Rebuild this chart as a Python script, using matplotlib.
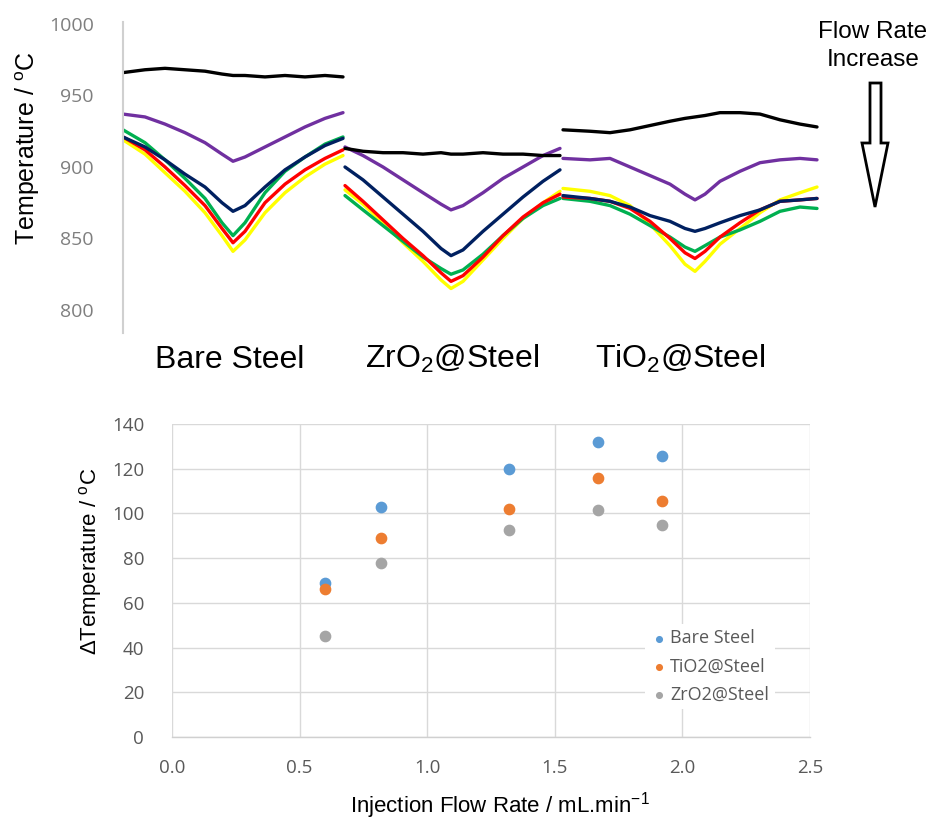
import matplotlib
matplotlib.use("Agg")
import matplotlib.pyplot as plt
from matplotlib.patches import Polygon
import numpy as np

# ---------------- data: top panel (temperature traces) ----------------
# sample positions along the recording for each sample segment
seg1_x = [0, 22, 42, 62, 82, 99, 110, 122, 142, 162, 182, 202, 220]
seg2_x = [222, 240, 260, 280, 300, 318, 328, 340, 360, 380, 400, 420, 437]
seg3_x = [440, 467, 487, 507, 527, 547, 562, 572, 582, 597, 617, 637, 657, 677, 694]

# Bare Steel
bare_black  = [966, 968, 969, 968, 967, 965, 964, 964, 963, 964, 963, 964, 963]
bare_purple = [937, 935, 930, 924, 917, 909, 904, 907, 914, 921, 928, 934, 938]
bare_navy   = [921, 914, 905, 895, 886, 875, 869, 873, 886, 898, 907, 915, 920]
bare_green  = [926, 917, 905, 892, 878, 861, 852, 861, 882, 897, 907, 916, 921]
bare_red    = [921, 912, 900, 887, 873, 857, 847, 855, 875, 888, 898, 906, 912]
bare_yellow = [919, 909, 896, 883, 868, 852, 841, 849, 868, 882, 893, 902, 908]

# ZrO2@Steel
zr_black  = [913, 911, 910, 910, 909, 910, 909, 909, 910, 909, 909, 908, 908]
zr_purple = [914, 908, 900, 891, 882, 874, 870, 873, 882, 892, 900, 908, 913]
zr_navy   = [900, 891, 879, 867, 855, 843, 838, 842, 855, 867, 879, 890, 898]
zr_green  = [880, 870, 859, 848, 837, 829, 825, 828, 839, 852, 864, 873, 878]
zr_red    = [887, 876, 863, 850, 838, 826, 820, 824, 837, 852, 865, 875, 881]
zr_yellow = [884, 874, 861, 847, 834, 821, 815, 820, 835, 850, 864, 875, 883]

# TiO2@Steel
ti_black  = [926, 925, 924, 926, 929, 932, 934, 935, 936, 938, 938, 937, 933, 930, 928]
ti_purple = [906, 905, 906, 900, 894, 888, 881, 877, 881, 890, 897, 903, 905, 906, 905]
ti_navy   = [880, 878, 876, 872, 866, 862, 857, 855, 857, 861, 866, 870, 876, 877, 878]
ti_green  = [878, 876, 873, 867, 859, 851, 844, 841, 845, 851, 856, 862, 869, 872, 871]
ti_red    = [879, 878, 876, 871, 862, 850, 840, 836, 841, 851, 861, 870, 876, 877, 878]
ti_yellow = [885, 883, 880, 873, 860, 845, 832, 827, 834, 846, 857, 868, 877, 882, 886]

top_yticks = [800, 850, 900, 950, 1000]
sample_labels = ["Bare Steel", "ZrO$_2$@Steel", "TiO$_2$@Steel"]

# ---------------- data: bottom panel (delta T vs flow) ----------------
flow_rate = [0.60, 0.82, 1.32, 1.67, 1.92]
dT_bare = [69, 103, 120, 132, 125.5]
dT_tio2 = [66, 89, 102, 116, 105.5]
dT_zro2 = [45, 78, 92.5, 101.5, 95]
series_names = ["Bare Steel", "TiO2@Steel", "ZrO2@Steel"]
bottom_xticks = [0.0, 0.5, 1.0, 1.5, 2.0, 2.5]
bottom_yticks = [0, 20, 40, 60, 80, 100, 120, 140]

# ---------------- styling ----------------
plt.rcParams['mathtext.fontset'] = 'custom'
plt.rcParams['mathtext.rm'] = 'Liberation Sans'
plt.rcParams['mathtext.it'] = 'Liberation Sans:italic'
plt.rcParams['mathtext.bf'] = 'Liberation Sans:bold'

W, H = 933, 825
fig = plt.figure(figsize=(W / 100, H / 100), dpi=100)

def fx(px):
    return px / W

def fy(py):
    return 1 - py / H

# ---- top axes ----
ax1 = fig.add_axes([fx(123), fy(333), fx(830) - fx(123), fy(22) - fy(333)])
colors = {"yellow": "#FFFF00", "green": "#00B050", "red": "#FF0000",
          "navy": "#002060", "purple": "#7030A0", "black": "#000000"}
segments = [
    (seg1_x, {"black": bare_black, "purple": bare_purple, "navy": bare_navy,
              "green": bare_green, "red": bare_red, "yellow": bare_yellow}),
    (seg2_x, {"black": zr_black, "purple": zr_purple, "navy": zr_navy,
              "green": zr_green, "red": zr_red, "yellow": zr_yellow}),
    (seg3_x, {"black": ti_black, "purple": ti_purple, "navy": ti_navy,
              "green": ti_green, "red": ti_red, "yellow": ti_yellow}),
]
order = ["yellow", "green", "red", "navy", "purple", "black"]
for xs, traces in segments:
    for c in order:
        ax1.plot(xs, traces[c], color=colors[c], lw=2.4, solid_joinstyle='round',
                 solid_capstyle='round')

ax1.set_xlim(0, 707)
ax1.set_ylim(783.9, 1001.4)
ax1.set_yticks(top_yticks)
ax1.set_yticklabels([str(v) for v in top_yticks], family="Open Sans",
                    fontsize=14, color="#7f7f7f")
ax1.tick_params(axis='y', length=0, pad=21)
ax1.set_xticks([])
for s in ["top", "right", "bottom"]:
    ax1.spines[s].set_visible(False)
ax1.spines["left"].set_color("#d0d0d0")
ax1.spines["left"].set_linewidth(1.5)
ax1.patch.set_alpha(0)

fig.text(fx(28), fy(148), "Temperature / $^{\\mathrm{o}}$C", rotation=90,
         ha="center", va="center", family="Liberation Sans", fontsize=18)

for lbl, cx in zip(sample_labels, [230, 452, 680]):
    fig.text(fx(cx), fy(368), lbl, ha="center", va="baseline",
             family="Liberation Sans", fontsize=23)

# flow rate arrow and text
fig.text(fx(873), fy(32), "Flow Rate", ha="center", va="center",
         family="Liberation Sans", fontsize=17.5)
fig.text(fx(873), fy(60), "Increase", ha="center", va="center",
         family="Liberation Sans", fontsize=17.5)
arrow_px = [(870, 83), (881, 83), (881, 143), (888, 143), (875, 207),
            (862, 143), (870, 143)]
arrow = Polygon([(fx(x), fy(y)) for x, y in arrow_px], closed=True,
                transform=fig.transFigure, facecolor="white",
                edgecolor="black", lw=2)
fig.patches.append(arrow)

# ---- bottom axes ----
ax2 = fig.add_axes([fx(172), fy(737), fx(810) - fx(172), fy(424) - fy(737)])
ax2.scatter(flow_rate, dT_bare, s=55, color="#5B9BD5", label=series_names[0], zorder=3)
ax2.scatter(flow_rate, dT_tio2, s=55, color="#ED7D31", label=series_names[1], zorder=3)
ax2.scatter(flow_rate, dT_zro2, s=55, color="#A5A5A5", label=series_names[2], zorder=3)
ax2.set_xlim(0, 2.5)
ax2.set_ylim(0, 140)
ax2.set_xticks(bottom_xticks)
ax2.set_yticks(bottom_yticks)
ax2.set_xticklabels([f"{v:.1f}" for v in bottom_xticks], family="Open Sans",
                    fontsize=13.5, color="#595959")
ax2.set_yticklabels([str(v) for v in bottom_yticks], family="Open Sans",
                    fontsize=13.5, color="#595959")
ax2.tick_params(length=0)
ax2.tick_params(axis='x', pad=16)
ax2.tick_params(axis='y', pad=20)
ax2.grid(True, color="#d9d9d9", lw=1)
ax2.set_axisbelow(True)
for s in ["top", "right", "left"]:
    ax2.spines[s].set_visible(False)
ax2.spines["bottom"].set_color("#d0d0d0")
ax2.spines["bottom"].set_linewidth(1)

fig.text(fx(90), fy(561), "ΔTemperature / $^{\\mathrm{o}}$C", rotation=90,
         ha="center", va="center", family="Liberation Sans", fontsize=16)
fig.text(fx(500), fy(806), "Injection Flow Rate / mL.min$^{\\mathrm{-1}}$",
         ha="center", va="center", family="Liberation Sans", fontsize=16)

leg = ax2.legend(loc="upper left", bbox_to_anchor=(fx(636), fy(615)),
                 bbox_transform=fig.transFigure, frameon=True, fancybox=False,
                 edgecolor="none", facecolor="white", framealpha=1,
                 markerscale=0.55, handletextpad=0.1, labelspacing=0.55,
                 borderpad=0.3, handlelength=1.0,
                 prop={"family": "Open Sans", "size": 13})
for t in leg.get_texts():
    t.set_color("#595959")

fig.savefig("out.png", dpi=100)
